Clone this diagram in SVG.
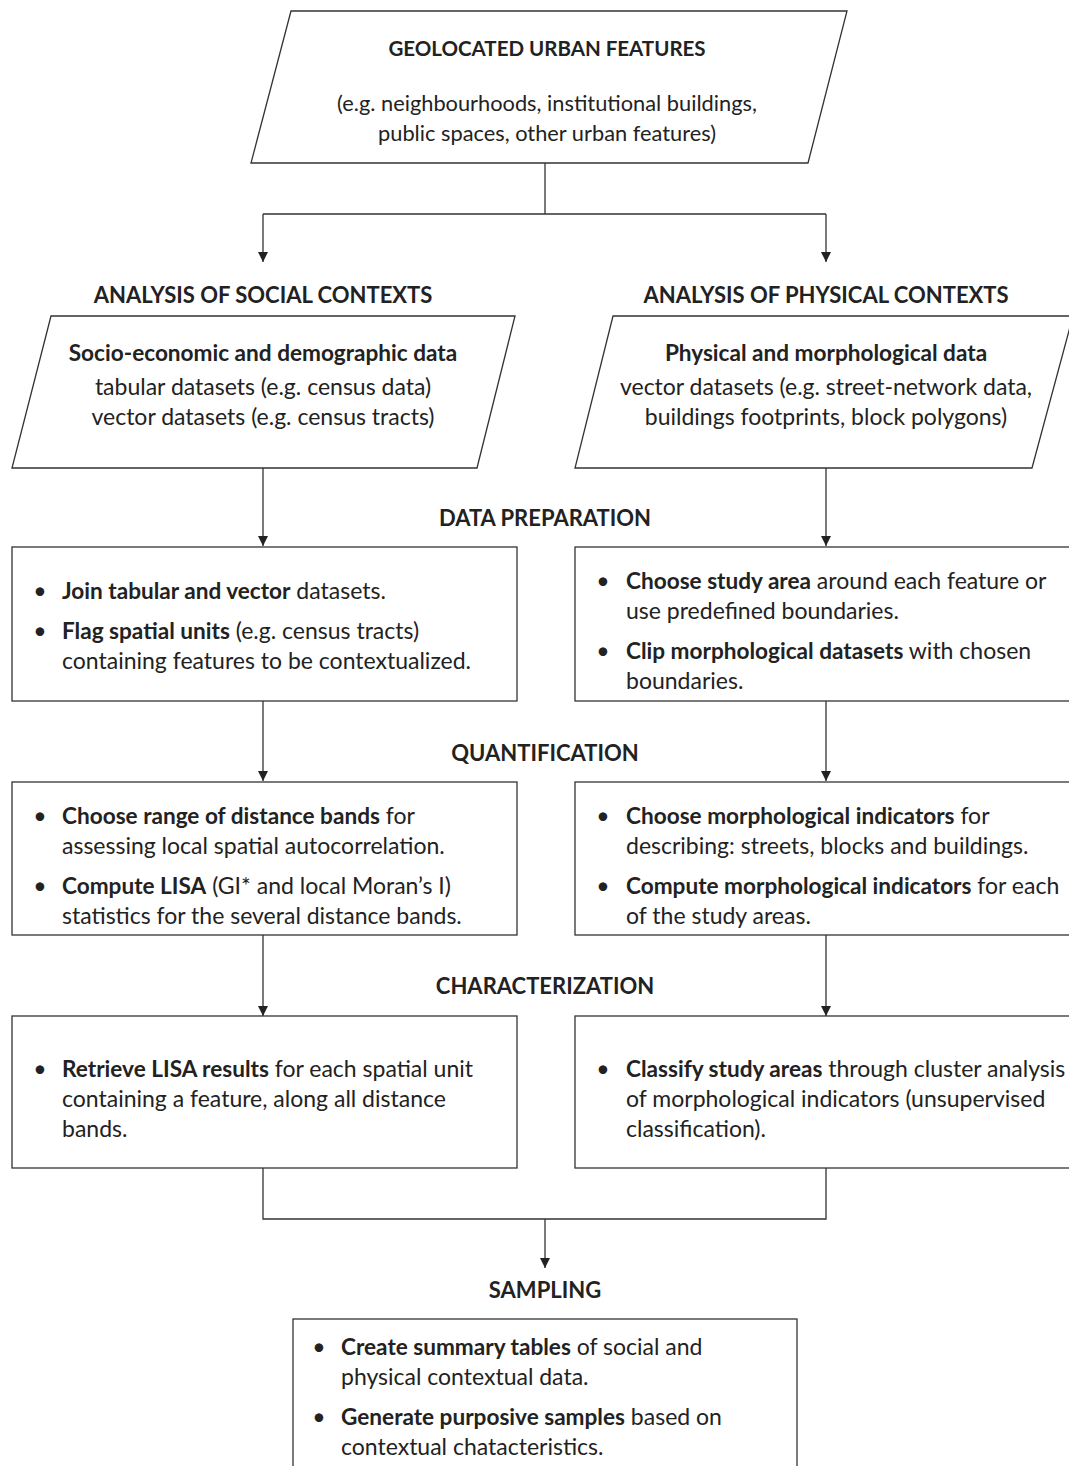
<svg xmlns="http://www.w3.org/2000/svg" width="1069" height="1466" viewBox="0 0 1069 1466">
<defs>
<marker id="arr" viewBox="0 0 10 10" refX="10" refY="5" markerWidth="10" markerHeight="10" markerUnits="userSpaceOnUse" orient="auto">
<path d="M0,0 L10,5 L0,10 z" fill="#222"/>
</marker>
<style>
.shape{fill:#fff;stroke:#333;stroke-width:1.3}
.conn{fill:none;stroke:#333;stroke-width:1.3}
text{font-family:Lato,"Open Sans","Liberation Sans",sans-serif;font-size:23px;fill:#222}
.b{font-weight:bold;font-size:22.6px}
.c{text-anchor:middle}
.h{font-size:22px;font-weight:bold;text-anchor:middle}
.t{font-size:20.5px;font-weight:bold}
.s{font-size:21.8px}
.d{text-anchor:middle}
</style>
</defs>
<rect width="1069" height="1466" fill="#fff"/>

<g id="connectors">
<path class="conn" d="M545,163 V214 M263,214 H826"/>
<path class="conn" d="M263,214 V262" marker-end="url(#arr)"/>
<path class="conn" d="M826,214 V262" marker-end="url(#arr)"/>
<path class="conn" d="M263,468 V546" marker-end="url(#arr)"/>
<path class="conn" d="M826,468 V546" marker-end="url(#arr)"/>
<path class="conn" d="M263,701 V781" marker-end="url(#arr)"/>
<path class="conn" d="M826,701 V781" marker-end="url(#arr)"/>
<path class="conn" d="M263,935 V1016" marker-end="url(#arr)"/>
<path class="conn" d="M826,935 V1016" marker-end="url(#arr)"/>
<path class="conn" d="M263,1168 V1219 H826 V1168"/>
<path class="conn" d="M545,1219 V1268" marker-end="url(#arr)"/>
</g>

<g id="features">
<polygon class="shape" points="291,11 847,11 808,163 251,163"/>
<text class="c t" x="547" y="56">GEOLOCATED URBAN FEATURES</text>
<text class="c s" x="547" y="111">(e.g. neighbourhoods, institutional buildings,</text>
<text class="c s" x="547" y="141">public spaces, other urban features)</text>
</g>

<g id="label-social"><text class="h" x="263" y="303">ANALYSIS OF SOCIAL CONTEXTS</text></g>
<g id="label-physical"><text class="h" x="826" y="303">ANALYSIS OF PHYSICAL CONTEXTS</text></g>

<g id="social-data">
<polygon class="shape" points="51,316 515,316 477,468 12,468"/>
<text class="b c" x="263" y="361">Socio-economic and demographic data</text>
<text class="c" x="263" y="395">tabular datasets (e.g. census data)</text>
<text class="c" x="263" y="425">vector datasets (e.g. census tracts)</text>
</g>

<g id="physical-data">
<polygon class="shape" points="613,316 1073,316 1032,468 575,468"/>
<text class="b c" x="826" y="361">Physical and morphological data</text>
<text class="c" x="826" y="395">vector datasets (e.g. street-network data,</text>
<text class="c" x="826" y="425">buildings footprints, block polygons)</text>
</g>

<g id="label-prep"><text class="h" x="545" y="526">DATA PREPARATION</text></g>

<g id="social-prep">
<rect class="shape" x="12" y="547" width="505" height="154"/>
<text class="d" x="40" y="599">•</text>
<text x="62" y="599"><tspan class="b">Join tabular and vector</tspan> datasets.</text>
<text class="d" x="40" y="639">•</text>
<text x="62" y="639"><tspan class="b">Flag spatial units</tspan> (e.g. census tracts)</text>
<text x="62" y="669">containing features to be contextualized.</text>
</g>

<g id="physical-prep">
<rect class="shape" x="575" y="547" width="500" height="154"/>
<text class="d" x="603" y="589">•</text>
<text x="626" y="589"><tspan class="b">Choose study area</tspan> around each feature or</text>
<text x="626" y="619">use predefined boundaries.</text>
<text class="d" x="603" y="659">•</text>
<text x="626" y="659"><tspan class="b">Clip morphological datasets</tspan> with chosen</text>
<text x="626" y="689">boundaries.</text>
</g>

<g id="label-quant"><text class="h" x="545" y="761">QUANTIFICATION</text></g>

<g id="social-quant">
<rect class="shape" x="12" y="782" width="505" height="153"/>
<text class="d" x="40" y="824">•</text>
<text x="62" y="824"><tspan class="b">Choose range of distance bands</tspan> for</text>
<text x="62" y="854">assessing local spatial autocorrelation.</text>
<text class="d" x="40" y="894">•</text>
<text x="62" y="894"><tspan class="b">Compute LISA</tspan> (GI* and local Moran’s I)</text>
<text x="62" y="924">statistics for the several distance bands.</text>
</g>

<g id="physical-quant">
<rect class="shape" x="575" y="782" width="500" height="153"/>
<text class="d" x="603" y="824">•</text>
<text x="626" y="824"><tspan class="b">Choose morphological indicators</tspan> for</text>
<text x="626" y="854">describing: streets, blocks and buildings.</text>
<text class="d" x="603" y="894">•</text>
<text x="626" y="894"><tspan class="b">Compute morphological indicators</tspan> for each</text>
<text x="626" y="924">of the study areas.</text>
</g>

<g id="label-char"><text class="h" x="545" y="994">CHARACTERIZATION</text></g>

<g id="social-char">
<rect class="shape" x="12" y="1016" width="505" height="152"/>
<text class="d" x="40" y="1077">•</text>
<text x="62" y="1077"><tspan class="b">Retrieve LISA results</tspan> for each spatial unit</text>
<text x="62" y="1107">containing a feature, along all distance</text>
<text x="62" y="1137">bands.</text>
</g>

<g id="physical-char">
<rect class="shape" x="575" y="1016" width="500" height="152"/>
<text class="d" x="603" y="1077">•</text>
<text x="626" y="1077"><tspan class="b">Classify study areas</tspan> through cluster analysis</text>
<text x="626" y="1107">of morphological indicators (unsupervised</text>
<text x="626" y="1137">classification).</text>
</g>

<g id="label-sampling"><text class="h" x="545" y="1298">SAMPLING</text></g>

<g id="sampling">
<rect class="shape" x="293" y="1319" width="504" height="160"/>
<text class="d" x="319" y="1355">•</text>
<text x="341" y="1355"><tspan class="b">Create summary tables</tspan> of social and</text>
<text x="341" y="1385">physical contextual data.</text>
<text class="d" x="319" y="1425">•</text>
<text x="341" y="1425"><tspan class="b">Generate purposive samples</tspan> based on</text>
<text x="341" y="1455">contextual chatacteristics.</text>
</g>
</svg>
